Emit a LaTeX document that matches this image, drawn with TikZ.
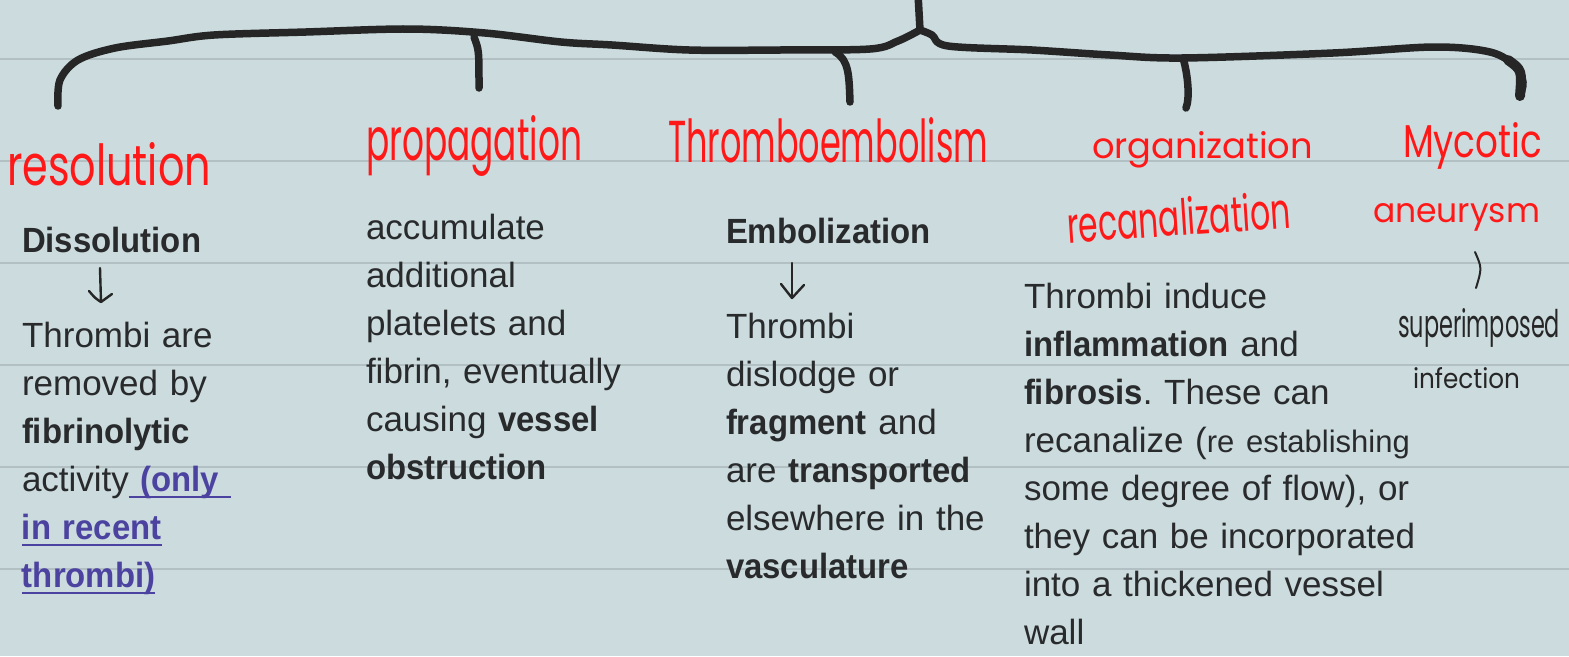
\documentclass[tikz,border=0pt]{standalone}
\usepackage{fontspec}
\usepackage{graphicx}
\setmainfont{Liberation Sans}[BoldFeatures={FakeStretch=0.94}]
\newfontfamily\hwfont{Poppins}
\frenchspacing
\definecolor{paper}{RGB}{203,219,222}
\definecolor{ruledc}{RGB}{178,192,195}
\definecolor{ink}{RGB}{38,38,38}
\definecolor{txt}{RGB}{40,42,44}
\definecolor{redink}{RGB}{255,24,24}
\definecolor{linkc}{RGB}{76,66,160}
\newcommand\lnk[1]{\leavevmode{\color{linkc}\bfseries\setbox0\hbox{#1}\rlap{\rule[-7pt]{\wd0}{2pt}}\box0}}
\newcommand\hwlabel[3]{\resizebox{#1}{#2}{\hwfont #3}}
\tikzset{
  body/.style={anchor=base west, inner sep=0pt, outer sep=0pt, text=txt,
    font=\fontsize{35}{48}\selectfont\frenchspacing, align=left, text width=460pt},
  redlabel/.style={anchor=base west, inner sep=0pt, outer sep=0pt, text=redink},
  note/.style={anchor=base west, inner sep=0pt, outer sep=0pt, text=ink},
  brace/.style={draw=ink, line width=7.5pt, line cap=round, line join=round},
  harrow/.style={draw=ink, line width=2.4pt, line cap=round, line join=round},
  ruledline/.style={draw=ruledc, line width=2pt}
}
\begin{document}
\begin{tikzpicture}[x=1pt,y=-1pt]
\useasboundingbox (0,0) rectangle (1569,656);
\fill[paper] (0,0) rectangle (1569,656);
% ruled lines
\foreach \yy in {59,161,263,365,467,569}
  \draw[ruledline] (0,\yy) -- (1569,\yy);

% bracket
\coordinate (top) at (918,-6);
\coordinate (jn) at (920,30);
\coordinate (endA) at (58,106);
\coordinate (endB) at (479,88);
\coordinate (endC) at (850,102);
\coordinate (endD) at (1186,108);
\coordinate (endE) at (1520,96);
\draw[brace] plot[smooth,tension=0.55] coordinates {(endA) (60,80) (78,60) (115,48) (168,41) (214,35) (306,32) (408,29) (485,33) (561,42) (612,45) (689,50) (780,50) (870,49) (898,41) (jn)};
\draw[brace] plot[smooth,tension=0.55] coordinates {(jn) (932,35) (948,46) (1032,50) (1110,55) (1182,58) (1333,53) (1434,47) (1490,52) (1515,66) (1523,82) (endE)};
\draw[brace] (top) -- (jn);
\draw[brace] (474,37) .. controls (479,50) .. (endB);
\draw[brace] (835,52) .. controls (849,60) and (849,75) .. (endC);
\draw[brace] (1183,58) .. controls (1188,75) and (1190,98) .. (endD);
\draw[brace, line width=10pt] (1508,60) .. controls (1522,70) .. (endE);

% red handwritten headings
\node[redlabel] (resol) at (7,185) {\hwlabel{204pt}{43pt}{resolution}};
\node[redlabel] (propag) at (366,160) {\hwlabel{216pt}{45pt}{propagation}};
\node[redlabel] (thrombo) at (668,162) {\hwlabel{320pt}{45pt}{Thromboembolism}};
\node[redlabel] (organ) at (1092,158) {\hwlabel{221pt}{27pt}{organization}};
\node[redlabel, rotate=3.8] (recan) at (1068,243) {\hwlabel{224pt}{38pt}{recanalization}};
\node[redlabel] (mycotic) at (1403,157) {\hwlabel{139pt}{35pt}{Mycotic}};
\node[redlabel] (aneur) at (1373,222) {\hwlabel{167pt}{19pt}{aneurysm}};

% black handwritten notes
\draw[harrow, line width=2pt] (1475,252) .. controls (1482,268) .. (1476,288);
\node[note] (superimp) at (1398,337) {\hwlabel{162pt}{29pt}{superimposed}};
\node[note] (infect) at (1413,388) {\hwlabel{107pt}{21pt}{infection}};

% column 1
\node[body] (diss) at (22,252) {\textbf{Dissolution}};
\node[body] (col1) at (22,347) {Thrombi are\\removed by\\\textbf{fibrinolytic}\\activity\lnk{\ (only\ }\\\lnk{in recent}\\\lnk{thrombi)}};
\coordinate (a1s) at (100,268);
\coordinate (a1e) at (101,302);
\draw[harrow] (a1s) -- (a1e);
\draw[harrow] (89,291) .. controls (95,298) .. (a1e) .. controls (106,298) .. (112,294);

% column 2
\node[body] (col2) at (366,239) {accumulate\\additional\\platelets and\\fibrin, eventually\\causing \textbf{vessel}\\\textbf{obstruction}};

% column 3
\node[body] (embol) at (726,243) {\textbf{Embolization}};
\node[body] (col3) at (726,338) {Thrombi\\dislodge or\\\textbf{fragment} and\\are \textbf{transported}\\elsewhere in the\\\textbf{vasculature}};
\coordinate (a2s) at (792,263);
\coordinate (a2e) at (792,298);
\draw[harrow] (a2s) -- (a2e);
\draw[harrow] (781,284) -- (a2e) -- (804,285);

% column 4
\node[body] (col4) at (1024,308) {Thrombi induce\\\textbf{inflammation} and\\\textbf{fibrosis}. These can\\recanalize ({\fontsize{31}{48}\selectfont re establishing}\\some degree of flow), or\\they can be incorporated\\into a thickened vessel\\wall};
\end{tikzpicture}
\end{document}
